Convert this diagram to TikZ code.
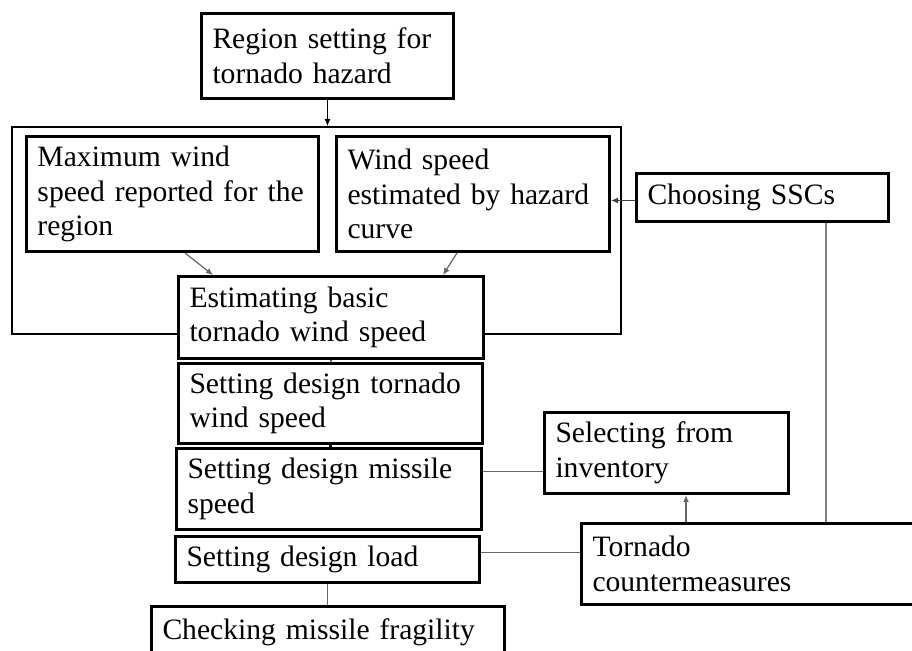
\documentclass[tikz,border=0pt]{standalone}
\usepackage{fontspec}
\setmainfont{Liberation Serif}
\usetikzlibrary{positioning}
\usetikzlibrary{arrows.meta}

\begin{document}
\begin{tikzpicture}[x=0.5pt,y=-0.5pt]
\tikzstyle{stepbox}=[draw, line width=1.5pt, fill=white, align=left, anchor=north west,
                     inner xsep=5.5pt, inner ysep=2pt, font=\fontsize{14.8}{17.3}\selectfont]
\tikzstyle{link}=[draw=black!60, line width=0.6pt]
\tikzstyle{arr}=[link, -{Latex[length=3.5pt,width=3pt]}]
\clip (0,0) rectangle (912,651);

% outer frame round the wind speed estimation
\node[draw, line width=1pt, anchor=north west, minimum width=304.5pt, minimum height=103.5pt,
      inner sep=0pt] (grp) at (11,126) {};

\node[stepbox, minimum width=126pt, text width=115pt, minimum height=42.5pt] (reg) at (200,12)
     {Region setting for\\tornado hazard};
\node[stepbox, minimum width=146pt, text width=135pt, minimum height=57.5pt] (maxw) at (25,135)
     {Maximum wind\\speed reported for the\\region};
\node[stepbox, minimum width=136.5pt, text width=125.5pt, minimum height=57.5pt] (haz) at (335,135)
     {Wind speed\\estimated by hazard\\curve};
\node[stepbox, minimum width=126pt, text width=115pt, minimum height=24pt] (ssc) at (635,172)
     {Choosing SSCs};
\node[stepbox, minimum width=152.5pt, text width=141.5pt, minimum height=41pt] (est) at (177,275)
     {Estimating basic\\tornado wind speed};
\node[stepbox, minimum width=152pt, text width=141pt, minimum height=40pt] (dws) at (177,362)
     {Setting design tornado\\wind speed};
\node[stepbox, minimum width=152.5pt, text width=141.5pt, minimum height=40.5pt] (dms) at (175,447)
     {Setting design missile\\speed};
\node[stepbox, minimum width=152pt, text width=141pt, minimum height=23pt] (dl) at (174,535)
     {Setting design load};
\node[stepbox, minimum width=176.5pt, text width=165.5pt, minimum height=26pt] (chk) at (150,605)
     {Checking missile fragility};
\node[stepbox, minimum width=122pt, text width=111pt, minimum height=40.5pt] (inv) at (543,411)
     {Selecting from\\inventory};
\node[stepbox, minimum width=175pt, text width=164pt, minimum height=40.5pt] (tc) at (580,522)
     {Tornado\\countermeasures};

% connectors
\draw[arr, draw=black] (reg.south) -- (reg.south |- grp.north);
\draw[arr] ([xshift=80pt]maxw.south west) -- ([xshift=18pt]est.north west);
\draw[arr] ([xshift=61pt]haz.south west) -- ([xshift=133pt]est.north west);
\draw[arr, draw=black!75] ([yshift=-1.5pt]ssc.west) coordinate (s0) -- (s0 -| haz.east);
\draw[link] (est.south) -- (est.south |- dws.north);
\draw[link, draw=black, line width=1.2pt] (dws.south) -- (dws.south |- dms.north);
\draw[link] ([yshift=8.75pt]dms.east) coordinate (m1) -- (m1 -| inv.west);
\draw[link] ([yshift=3.5pt]dl.east) coordinate (l1) -- (l1 -| tc.west);
\draw[link] (dl.south) -- (dl.south |- chk.north);
\draw[arr] ([xshift=53pt]tc.north west) coordinate (t1) -- (t1 |- inv.south);
\draw[link, draw=black!50] ([xshift=95.5pt]ssc.south west) coordinate (s1) -- (s1 |- tc.north);
\end{tikzpicture}
\end{document}
